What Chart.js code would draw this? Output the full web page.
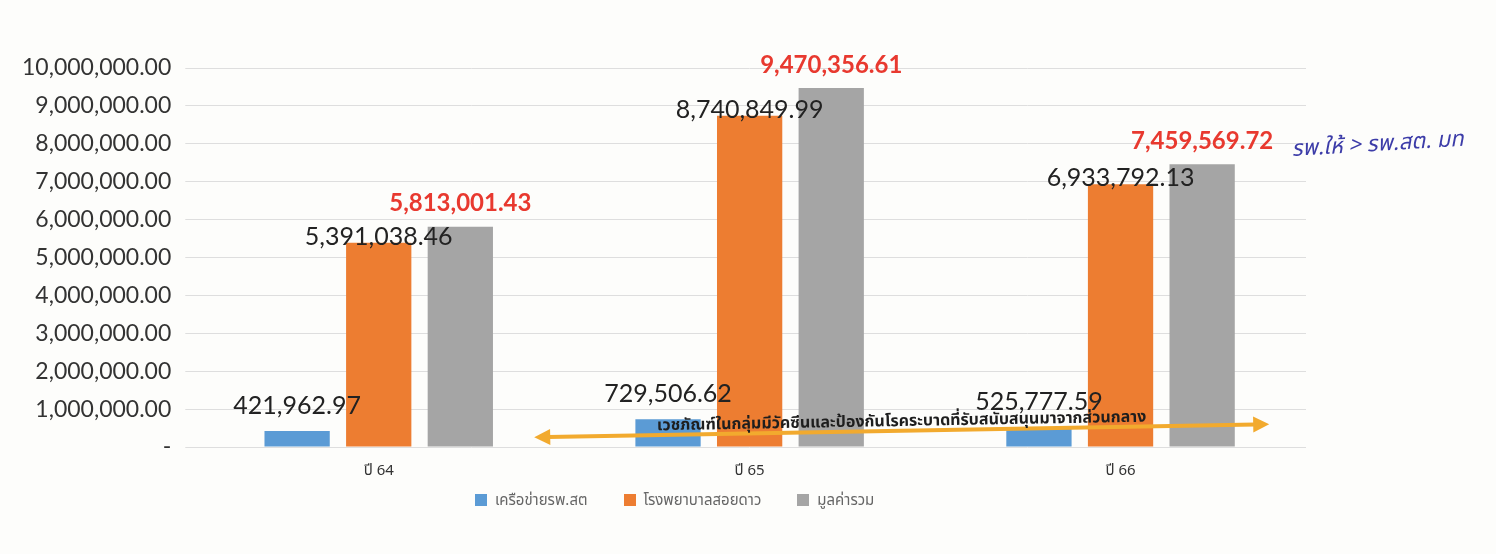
<!DOCTYPE html>
<html>
<head>
<meta charset="utf-8">
<script src="https://cdn.jsdelivr.net/npm/chart.js@4"></script>
<style>
  body { margin: 0; background: #fdfdfb; }
  #wrap { position: relative; width: 1496px; height: 554px; }
  #legend { position: absolute; left: 475px; top: 489px; font: 15px "Noto Sans Thai", "Noto Sans", sans-serif; color: #666; }
  #legend span { margin-right: 36px; }
  #legend i { display: inline-block; width: 12px; height: 12px; margin-right: 8px; vertical-align: -1px; }
</style>
</head>
<body>
<div id="wrap">
  <canvas id="summaryChart" width="1496" height="554"></canvas>
  <div id="legend"></div>
</div>
<script>
// values
const years = ['ปี 64', 'ปี 65', 'ปี 66'];
const seriesNames = ['เครือข่ายรพ.สต', 'โรงพยาบาลสอยดาว', 'มูลค่ารวม'];
const networkValues = [421962.97, 729506.62, 525777.59];
const hospitalValues = [5391038.46, 8740849.99, 6933792.13];
const totalValues = [5813001.43, 9470356.61, 7459569.72];
const seriesColors = ['#5b9bd5', '#ed7d31', '#a5a5a5'];
const noteText = 'เวชภัณฑ์ในกลุ่มมีวัคซีนและป้องกันโรคระบาดที่รับสนับสนุนมาจากส่วนกลาง';
const handNote = 'รพ.ให้ > รพ.สต. มท';

const fmt = v => v.toLocaleString('en-US', { minimumFractionDigits: 2, maximumFractionDigits: 2 });

// value labels over each bar
const barLabels = {
    id: 'barLabels',
    afterDatasetsDraw(chart) {
        const ctx = chart.ctx;
        ctx.save();
        ctx.textAlign = 'center';
        ctx.textBaseline = 'middle';
        chart.data.datasets.forEach((ds, i) => {
            const meta = chart.getDatasetMeta(i);
            meta.data.forEach((bar, j) => {
                if (i === 2) {
                    ctx.font = 'bold 24px Lato, sans-serif';
                    ctx.fillStyle = '#e8392f';
                    ctx.fillText(fmt(ds.data[j]), bar.x, bar.y - 23);
                } else {
                    ctx.font = '25px Lato, sans-serif';
                    ctx.fillStyle = '#222';
                    ctx.fillText(fmt(ds.data[j]), bar.x, bar.y - (i === 0 ? 25 : 6));
                }
            });
        });
        ctx.restore();
    }
};

// orange double arrow with the note, plus the pen note on the right
const notes = {
    id: 'notes',
    afterDraw(chart) {
        const ctx = chart.ctx;
        const xs = chart.scales.x, ys = chart.scales.y;
        const x1 = xs.getPixelForValue(0.43), y1 = ys.getPixelForValue(260000);
        const x2 = xs.getPixelForValue(2.39), y2 = ys.getPixelForValue(600000);
        const ang = Math.atan2(y2 - y1, x2 - x1);
        ctx.save();
        ctx.strokeStyle = '#f2aa2e';
        ctx.fillStyle = '#f2aa2e';
        ctx.lineWidth = 4;
        ctx.beginPath();
        ctx.moveTo(x1 + 10, y1 - 0.2);
        ctx.lineTo(x2 - 10, y2 + 0.2);
        ctx.stroke();
        [[x1, y1, ang + Math.PI], [x2, y2, ang]].forEach(([x, y, a]) => {
            ctx.save();
            ctx.translate(x, y);
            ctx.rotate(a);
            ctx.beginPath();
            ctx.moveTo(4, 0);
            ctx.lineTo(-12, -8);
            ctx.lineTo(-12, 8);
            ctx.closePath();
            ctx.fill();
            ctx.restore();
        });
        ctx.translate((x1 + x2) / 2, (y1 + y2) / 2 - 8);
        ctx.rotate(ang);
        ctx.font = 'bold 16px "Noto Sans Thai", "Noto Sans", sans-serif';
        ctx.fillStyle = '#1e1e1e';
        ctx.textAlign = 'center';
        ctx.textBaseline = 'middle';
        ctx.fillText(noteText, 0, 0, 535);
        ctx.restore();

        ctx.save();
        ctx.translate(1292, 156);
        ctx.rotate(-0.06);
        ctx.font = 'italic 22px "Noto Sans Thai", "Noto Sans", sans-serif';
        ctx.fillStyle = '#3c3ca8';
        ctx.fillText(handNote, 0, 0, 185);
        ctx.restore();
    }
};

const ctx = document.getElementById('summaryChart').getContext('2d');
new Chart(ctx, {
    type: 'bar',
    data: {
        labels: years,
        datasets: [
            { label: seriesNames[0], data: networkValues, backgroundColor: seriesColors[0] },
            { label: seriesNames[1], data: hospitalValues, backgroundColor: seriesColors[1] },
            { label: seriesNames[2], data: totalValues, backgroundColor: seriesColors[2] }
        ]
    },
    options: {
        responsive: false,
        animation: false,
        layout: { padding: { left: 8, right: 190, top: 68, bottom: 65 } },
        datasets: { bar: { categoryPercentage: 0.66, barPercentage: 0.8 } },
        plugins: {
            legend: { display: false },
            tooltip: { enabled: false }
        },
        scales: {
            x: {
                grid: { display: false },
                border: { display: false },
                ticks: { color: '#333', font: { size: 15, family: '"Noto Sans Thai", "Noto Sans", sans-serif' }, padding: 8 }
            },
            y: {
                min: 0,
                max: 10000000,
                ticks: {
                    stepSize: 1000000,
                    color: '#333',
                    padding: 14,
                    font: { size: 23, family: 'Lato, sans-serif' },
                    callback: v => v === 0 ? '-' : fmt(v)
                },
                grid: { color: '#dedede' },
                border: { display: false }
            }
        }
    },
    plugins: [barLabels, notes]
});

document.getElementById('legend').innerHTML = seriesNames
    .map((n, i) => `<span><i style="background:${seriesColors[i]}"></i>${n}</span>`).join('');
</script>
</body>
</html>
